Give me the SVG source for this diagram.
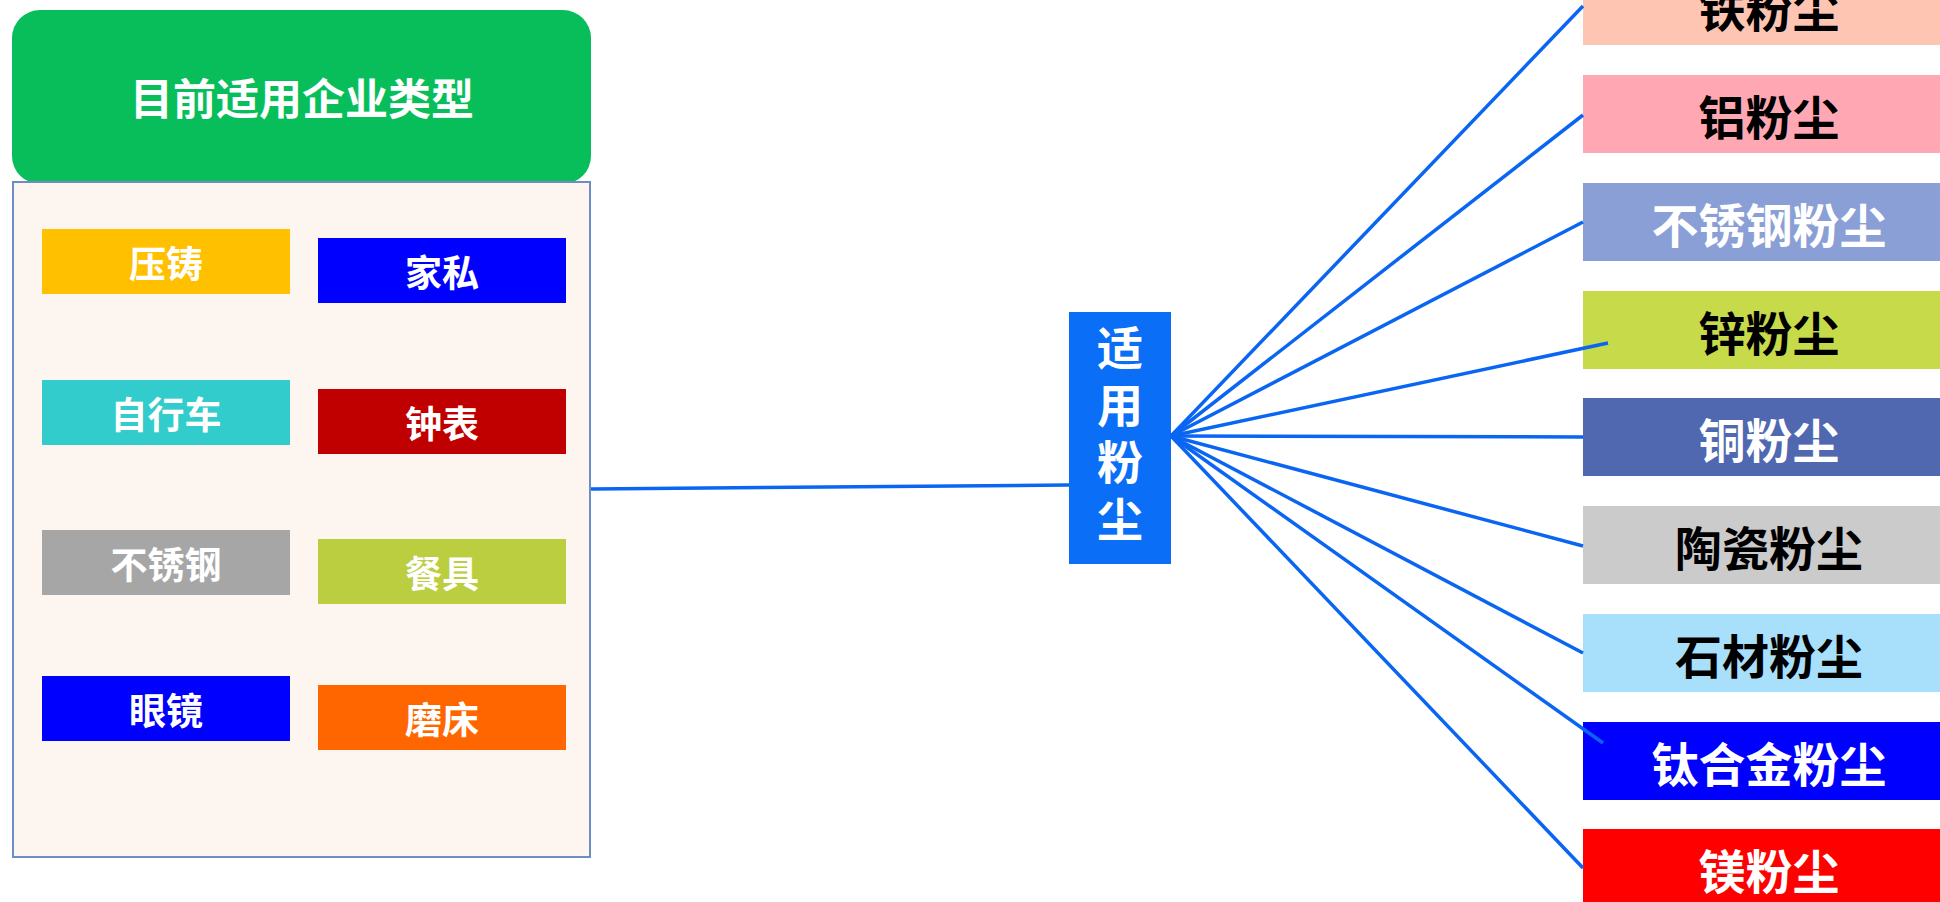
<svg xmlns="http://www.w3.org/2000/svg" width="1940" height="902" viewBox="0 0 1940 902">
<style>
.t{font-family:"Noto Sans CJK SC","Noto Sans",sans-serif;font-weight:bold;text-anchor:middle;dominant-baseline:central}
.w{fill:#ffffff}
.k{fill:#000000}
.s{font-size:37px}
.b{font-size:47px}
.c{stroke:#0A66F2;stroke-width:3.5;fill:none}
</style>
<rect width="1940" height="902" fill="#ffffff"/>
<g id="title">
<rect x="12" y="10" width="579" height="174" rx="28" fill="#08BE5A"/>
<text class="t w" x="302" y="96" font-size="43">目前适用企业类型</text>
</g>
<g id="panel">
<rect x="13" y="182" width="577" height="675" fill="#FDF5F0" stroke="#6F8CC4" stroke-width="2"/>
</g>
<g id="n-yazhu"><rect x="42" y="229" width="248" height="65" fill="#FFC000"/><text class="t w s" x="166" y="262">压铸</text></g>
<g id="n-jiasi"><rect x="318" y="238" width="248" height="65" fill="#0000FF"/><text class="t w s" x="442" y="271">家私</text></g>
<g id="n-zixingche"><rect x="42" y="380" width="248" height="65" fill="#33CCCC"/><text class="t w s" x="166" y="413">自行车</text></g>
<g id="n-zhongbiao"><rect x="318" y="389" width="248" height="65" fill="#C00000"/><text class="t w s" x="442" y="422">钟表</text></g>
<g id="n-buxiugang"><rect x="42" y="530" width="248" height="65" fill="#A6A6A6"/><text class="t w s" x="166" y="563">不锈钢</text></g>
<g id="n-canju"><rect x="318" y="539" width="248" height="65" fill="#BBCE40"/><text class="t w s" x="442" y="572">餐具</text></g>
<g id="n-yanjing"><rect x="42" y="676" width="248" height="65" fill="#0000FF"/><text class="t w s" x="166" y="709">眼镜</text></g>
<g id="n-mochuang"><rect x="318" y="685" width="248" height="65" fill="#FF6600"/><text class="t w s" x="442" y="718">磨床</text></g>
<g id="center">
<rect x="1069" y="312" width="102" height="252" fill="#0A6EF7"/>
<text class="w" x="1120" y="439" font-family="'Noto Sans CJK SC','Noto Sans',sans-serif" font-weight="bold" font-size="46" writing-mode="vertical-rl" text-anchor="middle" letter-spacing="11">适用粉尘</text>
</g>
<g id="d-tie"><rect x="1583" y="-33" width="357" height="78" fill="#FFC5B3"/><text class="t k b" x="1769" y="6">铁粉尘</text></g>
<g id="d-lv"><rect x="1583" y="75" width="357" height="78" fill="#FFA8B4"/><text class="t k b" x="1769" y="114">铝粉尘</text></g>
<g id="d-buxiugang"><rect x="1583" y="183" width="357" height="78" fill="#8B9FD7"/><text class="t w b" x="1769" y="222">不锈钢粉尘</text></g>
<g id="d-xin"><rect x="1583" y="291" width="357" height="78" fill="#C6DA4A"/><text class="t k b" x="1769" y="330">锌粉尘</text></g>
<g id="d-tong"><rect x="1583" y="398" width="357" height="78" fill="#4F68B0"/><text class="t w b" x="1769" y="437">铜粉尘</text></g>
<g id="d-taoci"><rect x="1583" y="506" width="357" height="78" fill="#CBCBCB"/><text class="t k b" x="1769" y="545">陶瓷粉尘</text></g>
<g id="d-shicai"><rect x="1583" y="614" width="357" height="78" fill="#A8E0FC"/><text class="t k b" x="1769" y="653">石材粉尘</text></g>
<g id="d-taihejin"><rect x="1583" y="722" width="357" height="78" fill="#0000FF"/><text class="t w b" x="1769" y="761">钛合金粉尘</text></g>
<g id="d-mei"><rect x="1583" y="829" width="357" height="78" fill="#FF0000"/><text class="t w b" x="1769" y="868">镁粉尘</text></g>
<g id="connectors">
<line class="c" x1="591" y1="489" x2="1069" y2="485"/>
<line class="c" x1="1171" y1="436" x2="1583" y2="6"/>
<line class="c" x1="1171" y1="436" x2="1583" y2="115"/>
<line class="c" x1="1171" y1="436" x2="1583" y2="222"/>
<line class="c" x1="1171" y1="436" x2="1608" y2="343"/>
<line class="c" x1="1171" y1="436" x2="1583" y2="437"/>
<line class="c" x1="1171" y1="436" x2="1583" y2="546"/>
<line class="c" x1="1171" y1="436" x2="1583" y2="653"/>
<line class="c" x1="1171" y1="436" x2="1603" y2="743"/>
<line class="c" x1="1171" y1="436" x2="1583" y2="868"/>
</g>
</svg>
